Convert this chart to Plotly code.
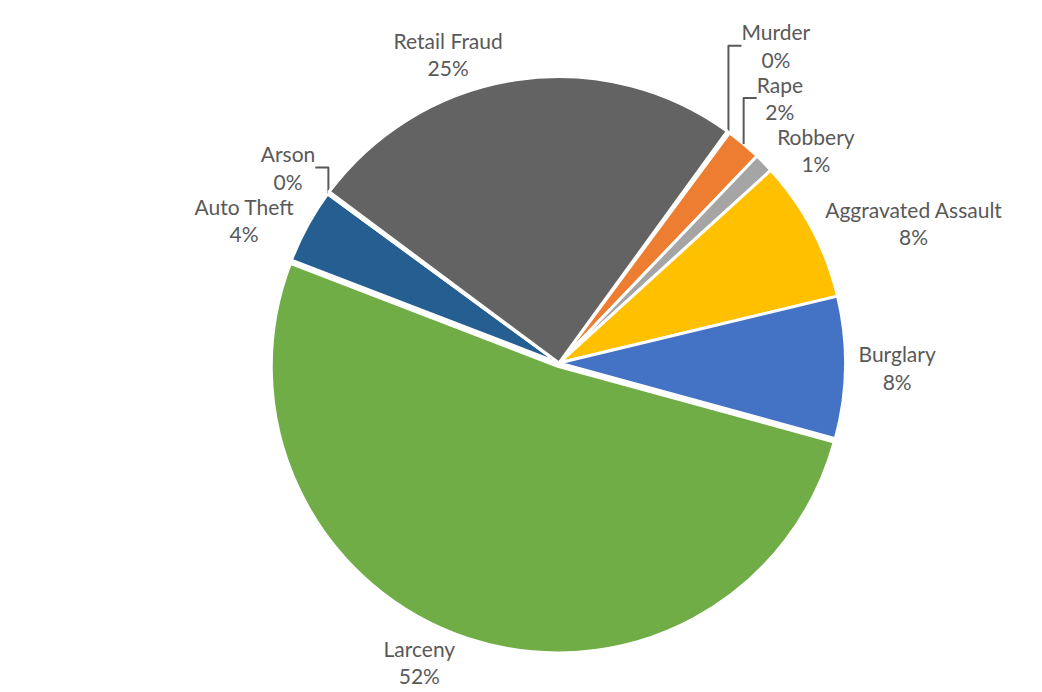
import plotly.graph_objects as go

# crime categories, in the order Excel draws them (clockwise)
categories = ["Murder", "Rape", "Robbery", "Aggravated Assault", "Burglary",
              "Larceny", "Auto Theft", "Arson", "Retail Fraud"]
# share of incidents, percent
shares = [0.15, 2.0, 1.1, 8.0, 8.0, 51.6, 4.2, 0.15, 24.8]

colors = ["#5B9BD5", "#ED7D31", "#A5A5A5", "#FFC000", "#4472C4",
          "#70AD47", "#255E91", "#9E480E", "#636363"]
pull = [0, 0, 0, 0, 0, 0.012, 0, 0, 0]

pie = go.Pie(
    labels=categories,
    values=shares,
    sort=False,
    direction="clockwise",
    rotation=36,
    pull=pull,
    marker=dict(colors=colors, line=dict(color="white", width=3)),
    texttemplate="%{label}<br>%{percent:.0%}",
    textposition="outside",
    outsidetextfont=dict(family="Lato, Calibri, sans-serif", size=21, color="#595959"),
    hoverinfo="label+percent",
    showlegend=False,
    domain=dict(x=[0.2360, 0.8214], y=[0.0318, 0.9133]),
)

fig = go.Figure(data=[pie])
fig.update_layout(
    width=1042,
    height=692,
    margin=dict(l=0, r=0, t=0, b=0),
    paper_bgcolor="white",
    plot_bgcolor="white",
    font=dict(family="Lato, Calibri, sans-serif", size=21, color="#595959"),
)

fig.write_html("out.html")
